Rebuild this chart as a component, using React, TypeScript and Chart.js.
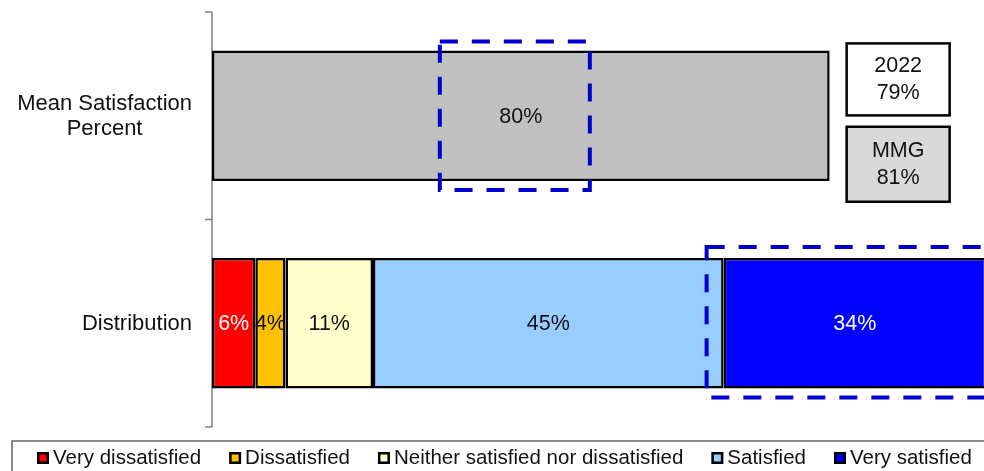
import React, { useEffect, useRef } from "react";
import { Chart, registerables } from "chart.js";

Chart.register(...registerables);

// ---------- data ----------
const categories = ["Mean Satisfaction Percent", "Distribution"];
const categoryLines = [["Mean Satisfaction", "Percent"], ["Distribution"]];
const seriesNames = [
  "Mean Satisfaction",
  "Very dissatisfied",
  "Dissatisfied",
  "Neither satisfied nor dissatisfied",
  "Satisfied",
  "Very satisfied",
];
const meanValues = [79.8, null];
const veryDissatisfiedValues = [null, 5.6];
const dissatisfiedValues = [null, 3.9];
const neitherValues = [null, 11.3];
const satisfiedValues = [null, 45.3];
const verySatisfiedValues = [null, 33.9];
const compareLabels = ["2022", "MMG"];
const compareValues = [79, 81];

const FONT = "'Liberation Sans', Arial, sans-serif";
const fillColors = ["#C0C0C0", "#FF0000", "#FFC000", "#FFFFCC", "#99CCFF", "#0000FF"];
const labelColors = ["#111", "#fff", "#111", "#111", "#111", "#fff"];
const compareFills = ["#FFFFFF", "#D9D9D9"];

const fmt = (v: number) => Math.round(v) + "%";

const decorPlugin = {
  id: "decor",
  beforeDatasetsDraw(chart: any) {
    const { ctx, chartArea } = chart;
    const y = chart.scales.y;
    ctx.save();
    ctx.strokeStyle = "#808080";
    ctx.lineWidth = 1.5;
    ctx.beginPath();
    ctx.moveTo(chartArea.left, chartArea.top);
    ctx.lineTo(chartArea.left, chartArea.bottom);
    const n = categories.length;
    for (let i = 0; i <= n; i++) {
      const py = y.top + ((y.bottom - y.top) * i) / n;
      ctx.moveTo(chartArea.left - 7, py);
      ctx.lineTo(chartArea.left, py);
    }
    ctx.stroke();
    ctx.restore();
  },
  afterDatasetsDraw(chart: any) {
    const { ctx, chartArea } = chart;
    const yScale = chart.scales.y;
    ctx.save();
    // value labels
    ctx.font = `21.5px ${FONT}`;
    ctx.textAlign = "center";
    ctx.textBaseline = "middle";
    chart.data.datasets.forEach((ds: any, di: number) => {
      const meta = chart.getDatasetMeta(di);
      meta.data.forEach((el: any, i: number) => {
        const v = ds.data[i];
        if (v == null) return;
        const p = el.getProps(["x", "y", "base"], true);
        ctx.fillStyle = labelColors[di];
        ctx.fillText(fmt(v), (p.x + p.base) / 2, p.y + 1);
      });
    });

    // category labels
    ctx.font = `22px ${FONT}`;
    ctx.fillStyle = "#111";
    categoryLines.forEach((lines, i) => {
      const cy = yScale.getPixelForValue(i);
      const widest = Math.max(...lines.map((l) => ctx.measureText(l).width));
      const cx = chartArea.left - 20 - widest / 2;
      const lh = 25;
      lines.forEach((l, k) => {
        ctx.fillText(l, cx, cy + (k - (lines.length - 1) / 2) * lh + 1);
      });
    });

    // comparison boxes
    const meanEl = chart.getDatasetMeta(0).data[0].getProps(["x", "y", "base", "height"], true);
    const bx = meanEl.x + 17;
    const bw = 103;
    const boxTops = [meanEl.y - meanEl.height / 2 - 7, meanEl.y + 11];
    const bh = [72, 75];
    ctx.font = `21.5px ${FONT}`;
    compareLabels.forEach((lab, i) => {
      ctx.fillStyle = compareFills[i];
      ctx.fillRect(bx, boxTops[i], bw, bh[i]);
      ctx.strokeStyle = "#000";
      ctx.lineWidth = 2.5;
      ctx.strokeRect(bx, boxTops[i], bw, bh[i]);
      ctx.fillStyle = "#111";
      const mid = boxTops[i] + bh[i] / 2;
      ctx.fillText(lab, bx + bw / 2, mid - 13);
      ctx.fillText(compareValues[i] + "%", bx + bw / 2, mid + 14);
    });

    // dashed highlight boxes
    ctx.strokeStyle = "#0000CC";
    ctx.lineWidth = 4;
    ctx.setLineDash([18, 14]);
    const mcx = (meanEl.x + meanEl.base) / 2;
    ctx.strokeRect(mcx - 81, meanEl.y - meanEl.height / 2 - 9, 150, meanEl.height + 18);
    const vsEl = chart.getDatasetMeta(5).data[1].getProps(["x", "y", "base", "height"], true);
    ctx.strokeRect(vsEl.base - 17, vsEl.y - vsEl.height / 2 - 11, 400, vsEl.height + 20);
    ctx.setLineDash([]);

    // legend
    ctx.strokeStyle = "#8a8a8a";
    ctx.lineWidth = 2;
    ctx.strokeRect(12, 441, 1200, 100);
    ctx.font = `20.5px ${FONT}`;
    ctx.textAlign = "left";
    ctx.textBaseline = "middle";
    let lx = 37;
    const ly = 458;
    for (let i = 1; i < seriesNames.length; i++) {
      ctx.fillStyle = "#000";
      ctx.fillRect(lx, ly - 6, 12, 12);
      ctx.fillStyle = fillColors[i];
      ctx.fillRect(lx + 2.5, ly - 3.5, 7, 7);
      ctx.fillStyle = "#111";
      const tx = lx + 16;
      ctx.fillText(seriesNames[i], tx, ly);
      lx = tx + ctx.measureText(seriesNames[i]).width + 28;
    }
    ctx.restore();
  },
};

export default function App() {
  const ref = useRef<HTMLCanvasElement | null>(null);
  useEffect(() => {
    if (!ref.current) return;
    const allValues = [
      meanValues,
      veryDissatisfiedValues,
      dissatisfiedValues,
      neitherValues,
      satisfiedValues,
      verySatisfiedValues,
    ];
    const chart = new Chart(ref.current, {
      type: "bar",
      data: {
        labels: categories,
        datasets: allValues.map((vals, i) => ({
          label: seriesNames[i],
          data: vals as any,
          backgroundColor: fillColors[i],
          borderColor: "#000",
          borderWidth: 2.5,
          borderSkipped: false,
          barPercentage: 0.63,
          categoryPercentage: 1,
        })),
      },
      options: {
        indexAxis: "y",
        animation: false,
        responsive: true,
        maintainAspectRatio: false,
        layout: { padding: { left: 212, right: 14, top: 12, bottom: 44 } },
        scales: {
          x: { stacked: true, min: 0, max: 100, display: false },
          y: { stacked: true, display: false },
        },
        plugins: {
          legend: { display: false },
          tooltip: { enabled: false },
        },
      },
      plugins: [decorPlugin],
    });
    return () => chart.destroy();
  }, []);
  return (
    <div style={{ position: "fixed", left: 0, top: 0, width: 984, height: 471, overflow: "hidden", background: "#fff" }}>
      <div style={{ width: 1000, height: 471 }}>
        <canvas ref={ref} />
      </div>
    </div>
  );
}
